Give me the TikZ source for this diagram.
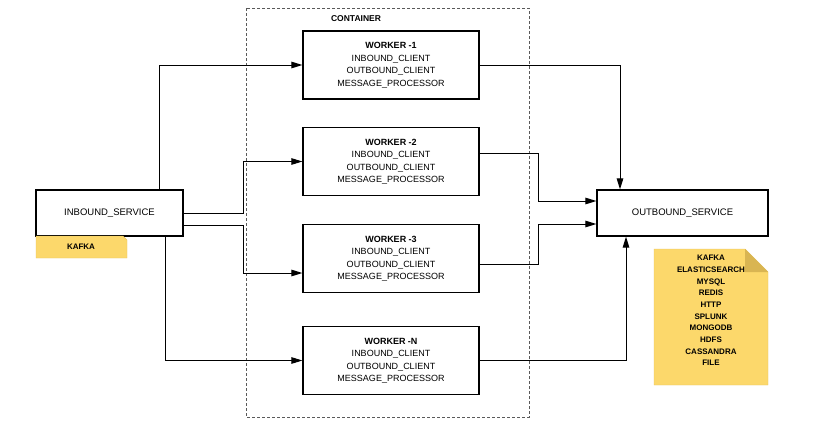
\documentclass[tikz,border=0pt]{standalone}
\usepackage{fontspec}
\setmainfont{Liberation Sans}
\usepackage{xcolor}
\usepackage{tikz}
\usetikzlibrary{arrows.meta,positioning}
\definecolor{notefill}{HTML}{FCD86B}
\definecolor{noteedge}{HTML}{E6C25E}
\definecolor{notefold}{HTML}{D9B552}

\begin{document}
\begin{tikzpicture}[x=1pt, y=-1pt,
    box/.style={draw, line width=1.2pt, align=center, inner sep=0pt, font=\fontsize{9}{12.5}\selectfont},
    flow/.style={line width=1pt, -{Triangle[length=11pt,width=6.5pt]}},
    notetext/.style={align=center, font=\bfseries\fontsize{8}{11.7}\selectfont}]
  \useasboundingbox (0,0) rectangle (835,437);
  % container
  \draw[gray!70!black, line width=0.8pt, dash pattern=on 3pt off 2pt] (246,8) rectangle (529,417);
  \node[font=\bfseries\fontsize{8.5}{10}\selectfont] (ctr) at (356,19) {CONTAINER};
  % services
  \node[box, minimum width=147pt, minimum height=46pt, font=\fontsize{9.5}{11}\selectfont] (inbound) at (109.5,213) {INBOUND\_SERVICE};
  \node[box, minimum width=171pt, minimum height=46pt, font=\fontsize{9.5}{11}\selectfont] (outbound) at (682.5,213) {OUTBOUND\_SERVICE};
  % workers
  \foreach \id/\num/\y in {w1/1/65, w2/2/161.5, w3/3/258.5, wn/N/360.5} {
    \node[box, minimum width=176pt, minimum height=68pt] (\id) at (391,\y)
      {\textbf{WORKER -\num}\\INBOUND\_CLIENT\\OUTBOUND\_CLIENT\\MESSAGE\_PROCESSOR};
  }
  % notes
  \filldraw[fill=notefill, draw=noteedge] (36,236) -- (123,236) -- (127,240) -- (127,258) -- (36,258) -- cycle;
  \node[notetext] (kafka) at (81,247) {KAFKA};
  \filldraw[fill=notefill, draw=noteedge] (654,249) -- (745,249) -- (768,272) -- (768,385) -- (654,385) -- cycle;
  \fill[notefold] (745,249) -- (745,272) -- (768,272) -- cycle;
  \node[notetext] (stores) at (711,310.5) {KAFKA\\ELASTICSEARCH\\MYSQL\\REDIS\\HTTP\\SPLUNK\\MONGODB\\HDFS\\CASSANDRA\\FILE};
  % inbound to workers
  \draw[flow] ([xshift=49.5pt]inbound.north) |- (w1.west);
  \draw[flow] (inbound.east) -- ++(60,0) |- (w2.west);
  \draw[flow] ([yshift=-12pt]inbound.east) -- ++(60,0) |- ([yshift=-14.5pt]w3.west);
  \draw[flow] ([xshift=55.5pt]inbound.south) |- (wn.west);
  % workers to outbound
  \draw[flow] (w1.east) -| ([xshift=-62.5pt]outbound.north);
  \draw[flow] ([yshift=8.5pt]w2.east) -- ++(59,0) |- ([yshift=12pt]outbound.west);
  \draw[flow] ([yshift=-5.5pt]w3.east) -- ++(59,0) |- ([yshift=-11pt]outbound.west);
  \draw[flow] (wn.east) -| ([xshift=-56.5pt]outbound.south);
\end{tikzpicture}
\end{document}
